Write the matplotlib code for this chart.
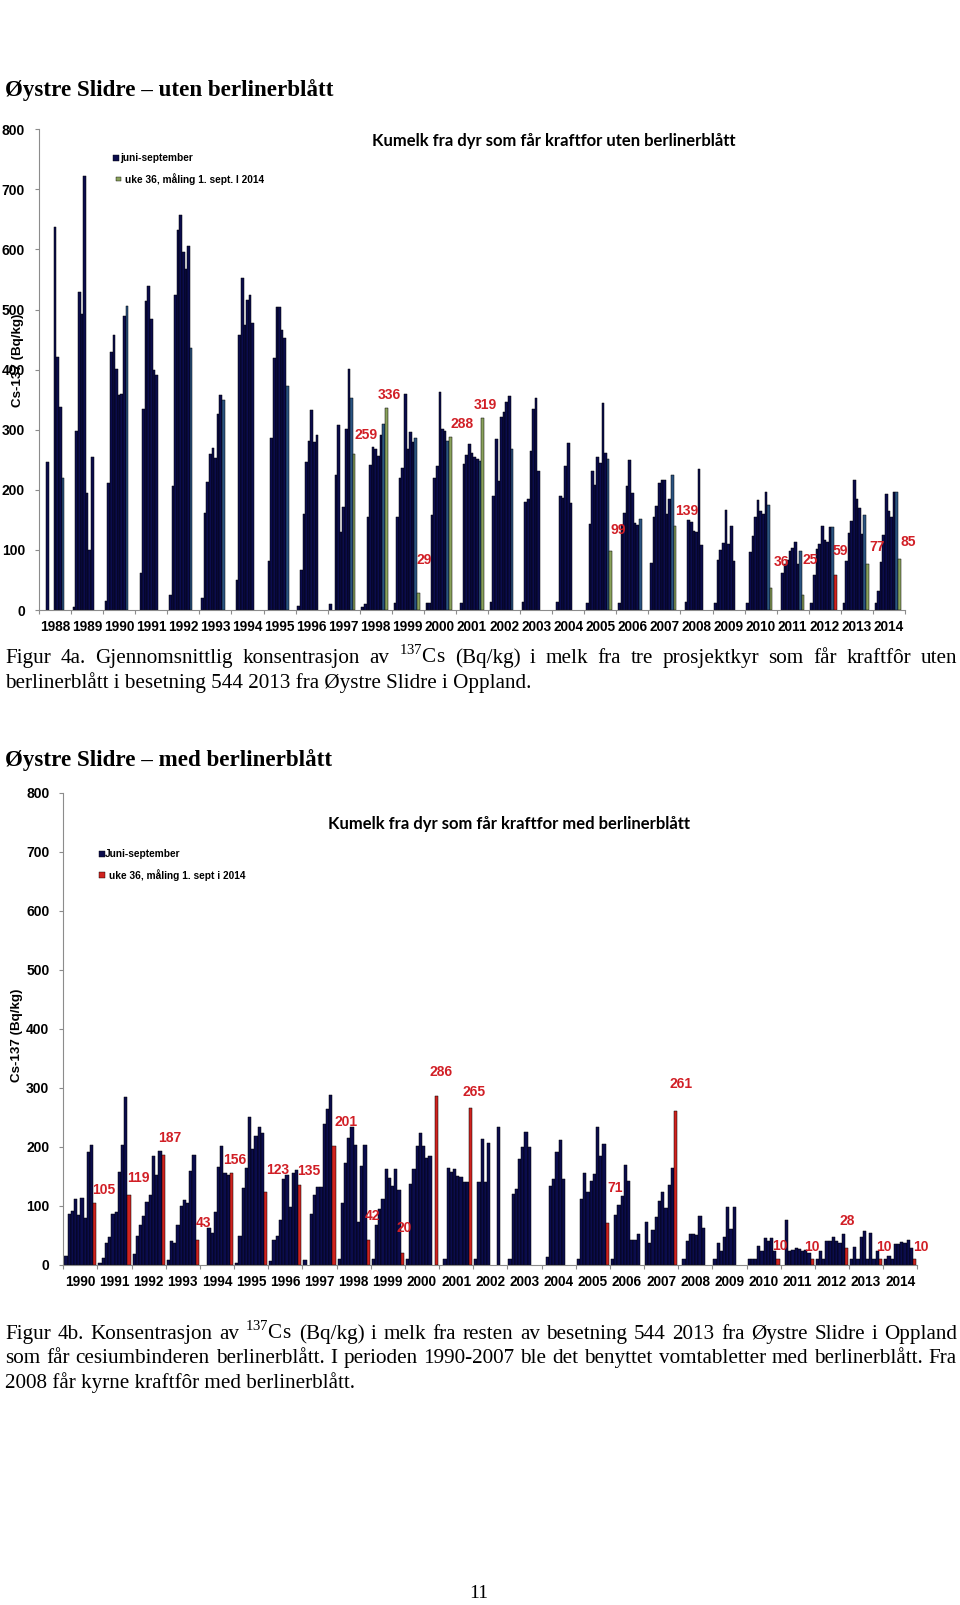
import numpy as np
import matplotlib.pyplot as plt
from matplotlib.patches import Rectangle

plt.rcParams['mathtext.fontset'] = 'custom'
plt.rcParams['mathtext.rm'] = 'Liberation Serif'

# ---- data: top chart (uten berlinerblått), 8 measurements juni-september per year
years_top = list(range(1988, 2015))
top_juni_sep = [
    [0, 0, 246, 0, 0, 637, 421, 338],
    [5, 298, 530, 492, 722, 195, 100, 255],
    [15, 211, 430, 458, 401, 357, 360, 489],
    [0, 62, 335, 515, 540, 485, 400, 391],
    [25, 207, 524, 633, 657, 596, 567, 605],
    [20, 162, 213, 260, 270, 253, 327, 357],
    [0, 50, 457, 553, 474, 516, 525, 478],
    [0, 82, 286, 419, 505, 504, 466, 452],
    [7, 67, 160, 246, 282, 333, 279, 292],
    [10, 0, 225, 308, 129, 171, 301, 401],
    [5, 10, 155, 241, 271, 268, 257, 292],
    [12, 155, 219, 237, 359, 268, 297, 280],
    [12, 12, 158, 220, 240, 362, 302, 298],
    [0, 11, 243, 258, 277, 261, 254, 252],
    [14, 189, 284, 214, 322, 330, 346, 356],
    [14, 179, 184, 265, 335, 353, 231, 0],
    [0, 14, 190, 186, 240, 278, 178, 0],
    [12, 143, 232, 208, 255, 245, 344, 262],
    [12, 141, 162, 207, 250, 195, 144, 141],
    [79, 155, 173, 212, 217, 216, 159, 184],
    [0, 14, 150, 146, 132, 130, 234, 108],
    [12, 83, 100, 112, 166, 110, 139, 82],
    [12, 97, 123, 155, 183, 165, 159, 196],
    [0, 61, 77, 84, 99, 104, 114, 76],
    [12, 58, 101, 110, 140, 117, 113, 138],
    [12, 82, 128, 148, 217, 185, 169, 126],
    [12, 32, 80, 125, 193, 165, 154, 196],
]
top_sept = [219, 0, 506, 0, 436, 349, 0, 372, 0, 352, 309, 286, 282, 248,
            268, 0, 0, 251, 151, 224, 0, 0, 175, 99, 138, 158, 196]
top_uke36 = [0, 0, 0, 0, 0, 0, 0, 0, 0, 259, 336, 29, 288, 319,
             0, 0, 0, 99, 0, 139, 0, 0, 36, 25, 0, 77, 85]
top_uke36_red = [0] * 24 + [59, 0, 0]

# ---- data: bottom chart (med berlinerblått), 9 measurements per year
years_bot = list(range(1990, 2015))
bot_juni_sep = [
    [15, 86, 92, 112, 85, 114, 79, 191, 203],
    [4, 12, 37, 47, 86, 90, 158, 203, 285],
    [18, 49, 67, 83, 107, 119, 184, 153, 193],
    [8, 40, 37, 68, 100, 110, 105, 160, 186],
    [0, 0, 62, 55, 90, 166, 202, 156, 153],
    [4, 49, 131, 165, 250, 196, 218, 233, 223],
    [6, 42, 49, 76, 145, 153, 99, 156, 161],
    [8, 0, 86, 119, 132, 132, 238, 264, 287],
    [11, 105, 172, 215, 234, 203, 72, 167, 203],
    [11, 67, 94, 112, 163, 147, 134, 163, 127],
    [11, 137, 162, 202, 223, 202, 182, 184, 0],
    [0, 11, 165, 158, 163, 151, 149, 141, 141],
    [11, 140, 214, 140, 206, 0, 0, 233, 0],
    [11, 120, 129, 180, 199, 226, 199, 0, 0],
    [0, 13, 134, 145, 192, 212, 145, 0, 0],
    [11, 112, 155, 124, 143, 154, 233, 185, 205],
    [11, 84, 101, 117, 169, 142, 42, 42, 52],
    [72, 38, 59, 82, 108, 124, 97, 135, 165],
    [0, 11, 40, 52, 52, 51, 83, 62, 0],
    [11, 37, 23, 48, 99, 61, 99, 0, 0],
    [11, 11, 11, 33, 24, 46, 40, 46, 24],
    [0, 77, 24, 25, 29, 27, 24, 25, 20],
    [11, 24, 11, 40, 41, 48, 41, 37, 53],
    [11, 31, 11, 48, 58, 11, 54, 11, 24],
    [11, 16, 11, 35, 35, 39, 38, 42, 29],
]
bot_uke36 = [105, 119, 187, 43, 156, 123, 135, 201, 42, 20, 286, 265, 0,
             0, 0, 71, 0, 261, 0, 0, 10, 10, 28, 10, 10]

NAVY = '#0b0c4c'
STEEL = '#2b5482'
GREEN = '#8aa25c'
RED = '#d0231f'
LABEL = '#d11f26'
SPINE = '#8c8c8c'

W, H = 960, 1605
fig = plt.figure(figsize=(W / 100, H / 100), dpi=100)


def px_axes(left, top, right, bottom):
    return fig.add_axes([left / W, 1 - bottom / H, (right - left) / W, (bottom - top) / H])


def ftext(x, y, s, **kw):
    return fig.text(x / W, 1 - y / H, s, **kw)


def bars(ax, x, vals, off, w, color):
    x = np.asarray(x, float)
    v = np.asarray(vals, float)
    m = v > 0
    ax.bar(x[m] + off, v[m], width=w, color=color, edgecolor='black', linewidth=0.35)


def style_axes(ax, years, ylabel_xy):
    n = len(years)
    ax.set_xlim(-0.5, n - 0.5)
    ax.set_ylim(0, 800)
    for s in ('top', 'right'):
        ax.spines[s].set_visible(False)
    for s in ('left', 'bottom'):
        ax.spines[s].set_color(SPINE)
        ax.spines[s].set_linewidth(0.8)
    ax.set_yticks(range(0, 801, 100))
    ax.set_xticks(np.arange(n))
    ax.set_xticklabels([str(y) for y in years])
    ax.set_xticks(np.arange(n + 1) - 0.5, minor=True)
    ax.tick_params(axis='x', which='major', length=0, pad=7)
    ax.tick_params(axis='x', which='minor', length=3, color=SPINE, width=0.8)
    ax.tick_params(axis='y', length=3, color=SPINE, width=0.8, pad=7)
    for t in ax.get_xticklabels():
        t.set_fontfamily('Liberation Sans')
        t.set_fontweight('bold')
        t.set_fontsize(9.8)
    for t in ax.get_yticklabels():
        t.set_fontfamily('Liberation Sans')
        t.set_fontweight('bold')
        t.set_fontsize(10)
    ftext(ylabel_xy[0], ylabel_xy[1], 'Cs-137 (Bq/kg)', rotation=90, ha='center', va='center',
          family='Liberation Sans', weight='bold', fontsize=9.6)


def legend_item(x, y, color, label, size, tx):
    fig.add_artist(Rectangle((x / W, 1 - (y + size / 2) / H), size / W, size / H,
                             transform=fig.transFigure, facecolor=color,
                             edgecolor='black', linewidth=0.3))
    ftext(tx, y, label, ha='left', va='center', family='Liberation Sans',
          weight='bold', fontsize=7.3)


def red_labels(ax, x, vals, off, offsets):
    k = 0
    for xi, v in zip(x, vals):
        if v <= 0:
            continue
        dx, dy = offsets[k]
        k += 1
        ax.annotate(str(v), (xi + off, v), xytext=(dx, dy), textcoords='offset pixels',
                    ha='center', va='center', color=LABEL, family='Liberation Sans',
                    weight='bold', fontsize=10)


# ---------------- headings
ftext(5, 90, 'Øystre Slidre – uten berlinerblått', family='Liberation Serif',
      weight='bold', fontsize=16.6, va='center', ha='left')
ftext(5, 760, 'Øystre Slidre – med berlinerblått', family='Liberation Serif',
      weight='bold', fontsize=16.6, va='center', ha='left')

# ---------------- top chart
ax1 = px_axes(39, 129.3, 905, 610)
xt = np.arange(len(years_top))
w1, pad1 = 0.0813, 0.053
slot1 = lambda k: -0.5 + pad1 + w1 * (k + 0.5)
for k in range(8):
    bars(ax1, xt, [row[k] for row in top_juni_sep], slot1(k), w1, NAVY)
bars(ax1, xt, top_sept, slot1(8), w1, STEEL)
bars(ax1, xt, top_uke36, slot1(9), w1, GREEN)
bars(ax1, xt, top_uke36_red, slot1(9), w1, RED)
style_axes(ax1, years_top, (18, 360))

top_lab = [v if v > 0 else r for v, r in zip(top_uke36, top_uke36_red)]
red_labels(ax1, xt, top_lab, slot1(9),
           [(12, 19), (3, 13), (6, 33), (12, 13), (3, 13), (8, 21), (12, 15),
            (10, 26), (7, 35), (5, 24), (10, 17), (9, 17)])

ftext(554, 141, 'Kumelk fra dyr som får kraftfor uten berlinerblått', family='Lato',
      weight='bold', fontsize=12, ha='center', va='center')
legend_item(113, 158, NAVY, 'juni-september', 5.5, 120)
legend_item(116, 179, GREEN, 'uke 36, måling 1. sept. I 2014', 4.5, 125)

# ---------------- bottom chart
ax2 = px_axes(63.3, 792.5, 917.3, 1265)
xb = np.arange(len(years_bot))
w2, pad2 = 0.094, 0.03
slot2 = lambda k: -0.5 + pad2 + w2 * (k + 0.5)
for k in range(9):
    bars(ax2, xb, [row[k] for row in bot_juni_sep], slot2(k), w2, NAVY)
bars(ax2, xb, bot_uke36, slot2(9), w2, RED)
style_axes(ax2, years_bot, (17, 1035))
red_labels(ax2, xb, bot_uke36, slot2(9),
           [(9, 13), (9, 17), (7, 17), (6, 17), (3, 13), (12, 22), (9, 14), (12, 24),
            (4, 24), (2, 25), (5, 24), (3, 16), (8, 35), (6, 27), (2, 13), (0, 12),
            (1, 27), (3, 12), (6, 12)])

ftext(509, 824, 'Kumelk fra dyr som får kraftfor med berlinerblått', family='Lato',
      weight='bold', fontsize=12, ha='center', va='center')
legend_item(99, 854, NAVY, 'Juni-september', 5.5, 105)
legend_item(99, 875, RED, 'uke 36, måling 1. sept i 2014', 5.5, 109)

# ---------------- captions
renderer = fig.canvas.get_renderer()


def caption_line(y, text, justify, x0=5, x1=957, size=15.2):
    # y is the text centre; words are placed on a common baseline
    yb = y + 5
    words = text.split(' ')
    if not justify:
        ftext(x0, yb, text, family='Liberation Serif', fontsize=size, va='baseline', ha='left')
        return
    arts = [ftext(x0, yb, wd, family='Liberation Serif', fontsize=size, va='baseline', ha='left')
            for wd in words]
    widths = [a.get_window_extent(renderer).width for a in arts]
    gap = (x1 - x0 - sum(widths)) / (len(words) - 1)
    x = x0
    for a, wdt in zip(arts, widths):
        a.set_x(x / W)
        x += wdt + gap


caption_line(658, 'Figur 4a. Gjennomsnittlig konsentrasjon av $^{137}$Cs (Bq/kg) i melk fra tre '
             'prosjektkyr som får kraftfôr uten', True)
caption_line(683, 'berlinerblått i besetning 544 2013 fra Øystre Slidre i Oppland.', False)
caption_line(1334, 'Figur 4b. Konsentrasjon av $^{137}$Cs (Bq/kg) i melk fra resten av besetning '
             '544 2013 fra Øystre Slidre i Oppland', True)
caption_line(1358, 'som får cesiumbinderen berlinerblått. I perioden 1990-2007 ble det benyttet '
             'vomtabletter med berlinerblått. Fra', True)
caption_line(1383, '2008 får kyrne kraftfôr med berlinerblått.', False)

ftext(479, 1594, '11', family='Liberation Serif', fontsize=14, ha='center', va='center')

fig.savefig('out.png', dpi=100)
